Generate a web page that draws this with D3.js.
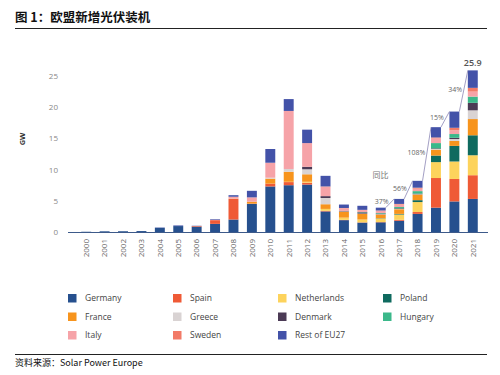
<!DOCTYPE html>
<html>
<head>
<meta charset="utf-8">
<script src="https://cdn.jsdelivr.net/npm/d3@7"></script>
<style>
  body { margin: 0; background: #fff; }
  svg { display: block; }
</style>
</head>
<body>
<div class="svg-container"></div>
<script>
// data (GW)
var years = ["2000","2001","2002","2003","2004","2005","2006","2007","2008","2009","2010",
             "2011","2012","2013","2014","2015","2016","2017","2018","2019","2020","2021"];
var countries = ["Germany","Spain","Netherlands","Poland","France","Greece","Denmark","Hungary","Italy","Sweden","Rest of EU27"];
var colors = ["#26508e","#ef5a36","#fdd35c","#0f6a5f","#f7941d","#d9d3d3","#4b3a55","#3bb88a","#f6a3a8","#f27a67","#4352a8"];

var germany     = [0.04,0.11,0.12,0.15,0.67,0.95,0.85,1.3,2.0,4.5,7.3,7.5,7.6,3.3,1.9,1.5,1.55,1.8,2.9,3.9,4.9,5.3];
var spain       = [0,0,0,0,0,0,0.1,0.6,3.3,0.05,0.45,0.5,0.3,0.1,0.05,0.05,0.05,0.15,0.3,4.75,3.6,3.8];
var netherlands = [0,0,0,0,0,0,0,0,0,0,0,0.05,0.15,0.3,0.35,0.45,0.55,0.85,1.6,2.55,2.8,3.2];
var poland      = [0,0,0,0,0,0,0,0,0,0,0,0,0,0,0,0,0.05,0.1,0.3,1.05,2.5,3.2];
var france      = [0,0,0,0,0,0,0,0,0.05,0.3,0.8,1.6,1.2,0.75,0.95,0.9,0.6,0.75,0.9,0.95,0.8,2.6];
var greece      = [0,0,0,0,0,0,0,0,0,0,0.15,0.45,0.8,1.0,0.05,0.05,0.05,0.05,0.05,0.1,0.3,1.4];
var denmark     = [0,0,0,0,0,0,0,0,0,0,0,0,0.4,0.3,0.1,0.2,0.1,0.1,0.1,0.1,0.2,1.2];
var hungary     = [0,0,0,0,0,0,0,0,0,0,0,0,0,0,0,0.05,0.1,0.2,0.4,0.85,0.6,1.0];
var italy       = [0,0,0,0,0,0,0,0.05,0.3,0.7,2.4,9.3,3.8,1.5,0.4,0.3,0.35,0.4,0.4,0.75,0.6,0.8];
var sweden      = [0,0,0,0,0,0,0,0,0,0,0,0,0,0.05,0.05,0.05,0.05,0.1,0.15,0.15,0.4,0.6];
var rest        = [0,0,0,0,0.05,0.1,0.05,0.1,0.25,1.05,2.2,1.9,2.15,1.7,0.55,0.65,0.45,0.8,1.1,1.65,2.6,2.8];

var yoyYears = ["2017","2018","2019","2020","2021"];
var yoyLabels = ["37%","56%","108%","15%","34%"];
var yTicks = [0,5,10,15,20,25];

var series = [germany,spain,netherlands,poland,france,greece,denmark,hungary,italy,sweden,rest];

var rows = years.map(function(y, i) {
  var r = { year: y };
  countries.forEach(function(c, k) { r[c] = series[k][i]; });
  return r;
});

var width = 500, height = 375;
var svg = d3.select(".svg-container").append("svg")
  .attr("width", width)
  .attr("height", height);

var zh = "'Noto Sans CJK SC', 'Noto Sans', sans-serif";
var lat = "'Open Sans', 'Noto Sans', sans-serif";

// title
svg.append("text")
  .attr("x", 15).attr("y", 22)
  .attr("font-family", zh).attr("font-weight", "bold")
  .attr("font-size", 12.5).attr("fill", "#111")
  .text("图 1：欧盟新增光伏装机");
svg.append("line")
  .attr("x1", 15).attr("x2", 487).attr("y1", 28.5).attr("y2", 28.5)
  .attr("stroke", "#222").attr("stroke-width", 1);

// scales
var x = d3.scaleBand().domain(years).range([77, 482]).paddingInner(0.46).paddingOuter(0.23);
var y = d3.scaleLinear().domain([0, 25]).range([232, 76]);

// y ticks (no axis line)
var yAxis = svg.append("g")
  .attr("transform", "translate(68,0)")
  .call(d3.axisLeft(y).tickValues(yTicks).tickSize(0).tickPadding(10));
yAxis.select(".domain").remove();
yAxis.selectAll("text")
  .attr("font-family", lat).attr("font-size", 8).attr("fill", "#888");

svg.append("text")
  .attr("transform", "translate(25,139) rotate(-90)")
  .attr("text-anchor", "middle")
  .attr("font-family", lat).attr("font-size", 7.5).attr("font-weight", "bold").attr("fill", "#333")
  .text("GW");

// stacked bars
var stack = d3.stack().keys(countries)(rows);
svg.append("g").selectAll("g")
  .data(stack)
  .enter().append("g")
  .attr("fill", function(d, i) { return colors[i]; })
  .selectAll("rect")
  .data(function(d) { return d; })
  .enter().append("rect")
  .attr("x", function(d) { return x(d.data.year); })
  .attr("width", x.bandwidth())
  .attr("y", function(d) { return y(d[1]); })
  .attr("height", function(d) { return Math.max(0, y(d[0]) - y(d[1])); });

// x axis
svg.append("line")
  .attr("x1", 68).attr("x2", 488).attr("y1", y(0) + 0.5).attr("y2", y(0) + 0.5)
  .attr("stroke", "#3d5a8a").attr("stroke-width", 1);
var xAxis = svg.append("g")
  .attr("transform", "translate(0," + (y(0) + 7) + ")")
  .call(d3.axisBottom(x).tickSize(0).tickPadding(0));
xAxis.select(".domain").remove();
xAxis.selectAll("text")
  .attr("font-family", lat).attr("font-size", 8).attr("fill", "#666")
  .attr("transform", "rotate(-90)")
  .attr("text-anchor", "end")
  .attr("dy", "0.35em")
  .attr("x", 0).attr("y", 0);

// year-on-year connectors
function total(i) { return d3.sum(series, function(s) { return s[i]; }); }
var yoyG = svg.append("g");
yoyYears.forEach(function(yr, k) {
  var i = years.indexOf(yr);
  var x1 = x(years[i - 1]) + x.bandwidth(), y1 = y(total(i - 1));
  var x2 = x(yr), y2 = y(total(i));
  yoyG.append("line")
    .attr("x1", x1).attr("y1", y1).attr("x2", x2).attr("y2", y2)
    .attr("stroke", "#8c86b5").attr("stroke-width", 0.8);
  var mx = (x1 + x2) / 2, my = (y1 + y2) / 2;
  yoyG.append("text")
    .attr("x", mx - 1.5).attr("y", my + 1)
    .attr("text-anchor", "end")
    .attr("font-family", lat).attr("font-size", 7).attr("fill", "#666")
    .text(yoyLabels[k]);
  if (k === 0) {
    yoyG.append("text")
      .attr("x", mx - 1.5).attr("y", my - 25)
      .attr("text-anchor", "end")
      .attr("font-family", zh).attr("font-size", 8).attr("fill", "#777")
      .text("同比");
  }
});

var last = years.length - 1;
svg.append("text")
  .attr("x", x(years[last]) + x.bandwidth() / 2)
  .attr("y", y(total(last)) - 4)
  .attr("text-anchor", "middle")
  .attr("font-family", lat).attr("font-size", 9).attr("font-weight", 600).attr("fill", "#555")
  .text(d3.format(".1f")(total(last)));

// legend
var legend = svg.append("g").selectAll("g")
  .data(countries)
  .enter().append("g")
  .attr("transform", function(d, i) {
    return "translate(" + (68 + (i % 4) * 105) + "," + (294 + Math.floor(i / 4) * 18.5) + ")";
  });
legend.append("rect")
  .attr("width", 8.5).attr("height", 8.5)
  .attr("fill", function(d, i) { return colors[i]; });
legend.append("text")
  .attr("x", 17).attr("y", 4.5).attr("dy", "0.35em")
  .attr("font-family", lat).attr("font-size", 8.5).attr("fill", "#444")
  .text(function(d) { return d; });

// source
svg.append("line")
  .attr("x1", 15).attr("x2", 487).attr("y1", 354.5).attr("y2", 354.5)
  .attr("stroke", "#222").attr("stroke-width", 1);
svg.append("text")
  .attr("x", 15).attr("y", 366)
  .attr("font-family", zh).attr("font-size", 9).attr("fill", "#111")
  .text("资料来源：Solar Power Europe");
</script>
</body>
</html>
